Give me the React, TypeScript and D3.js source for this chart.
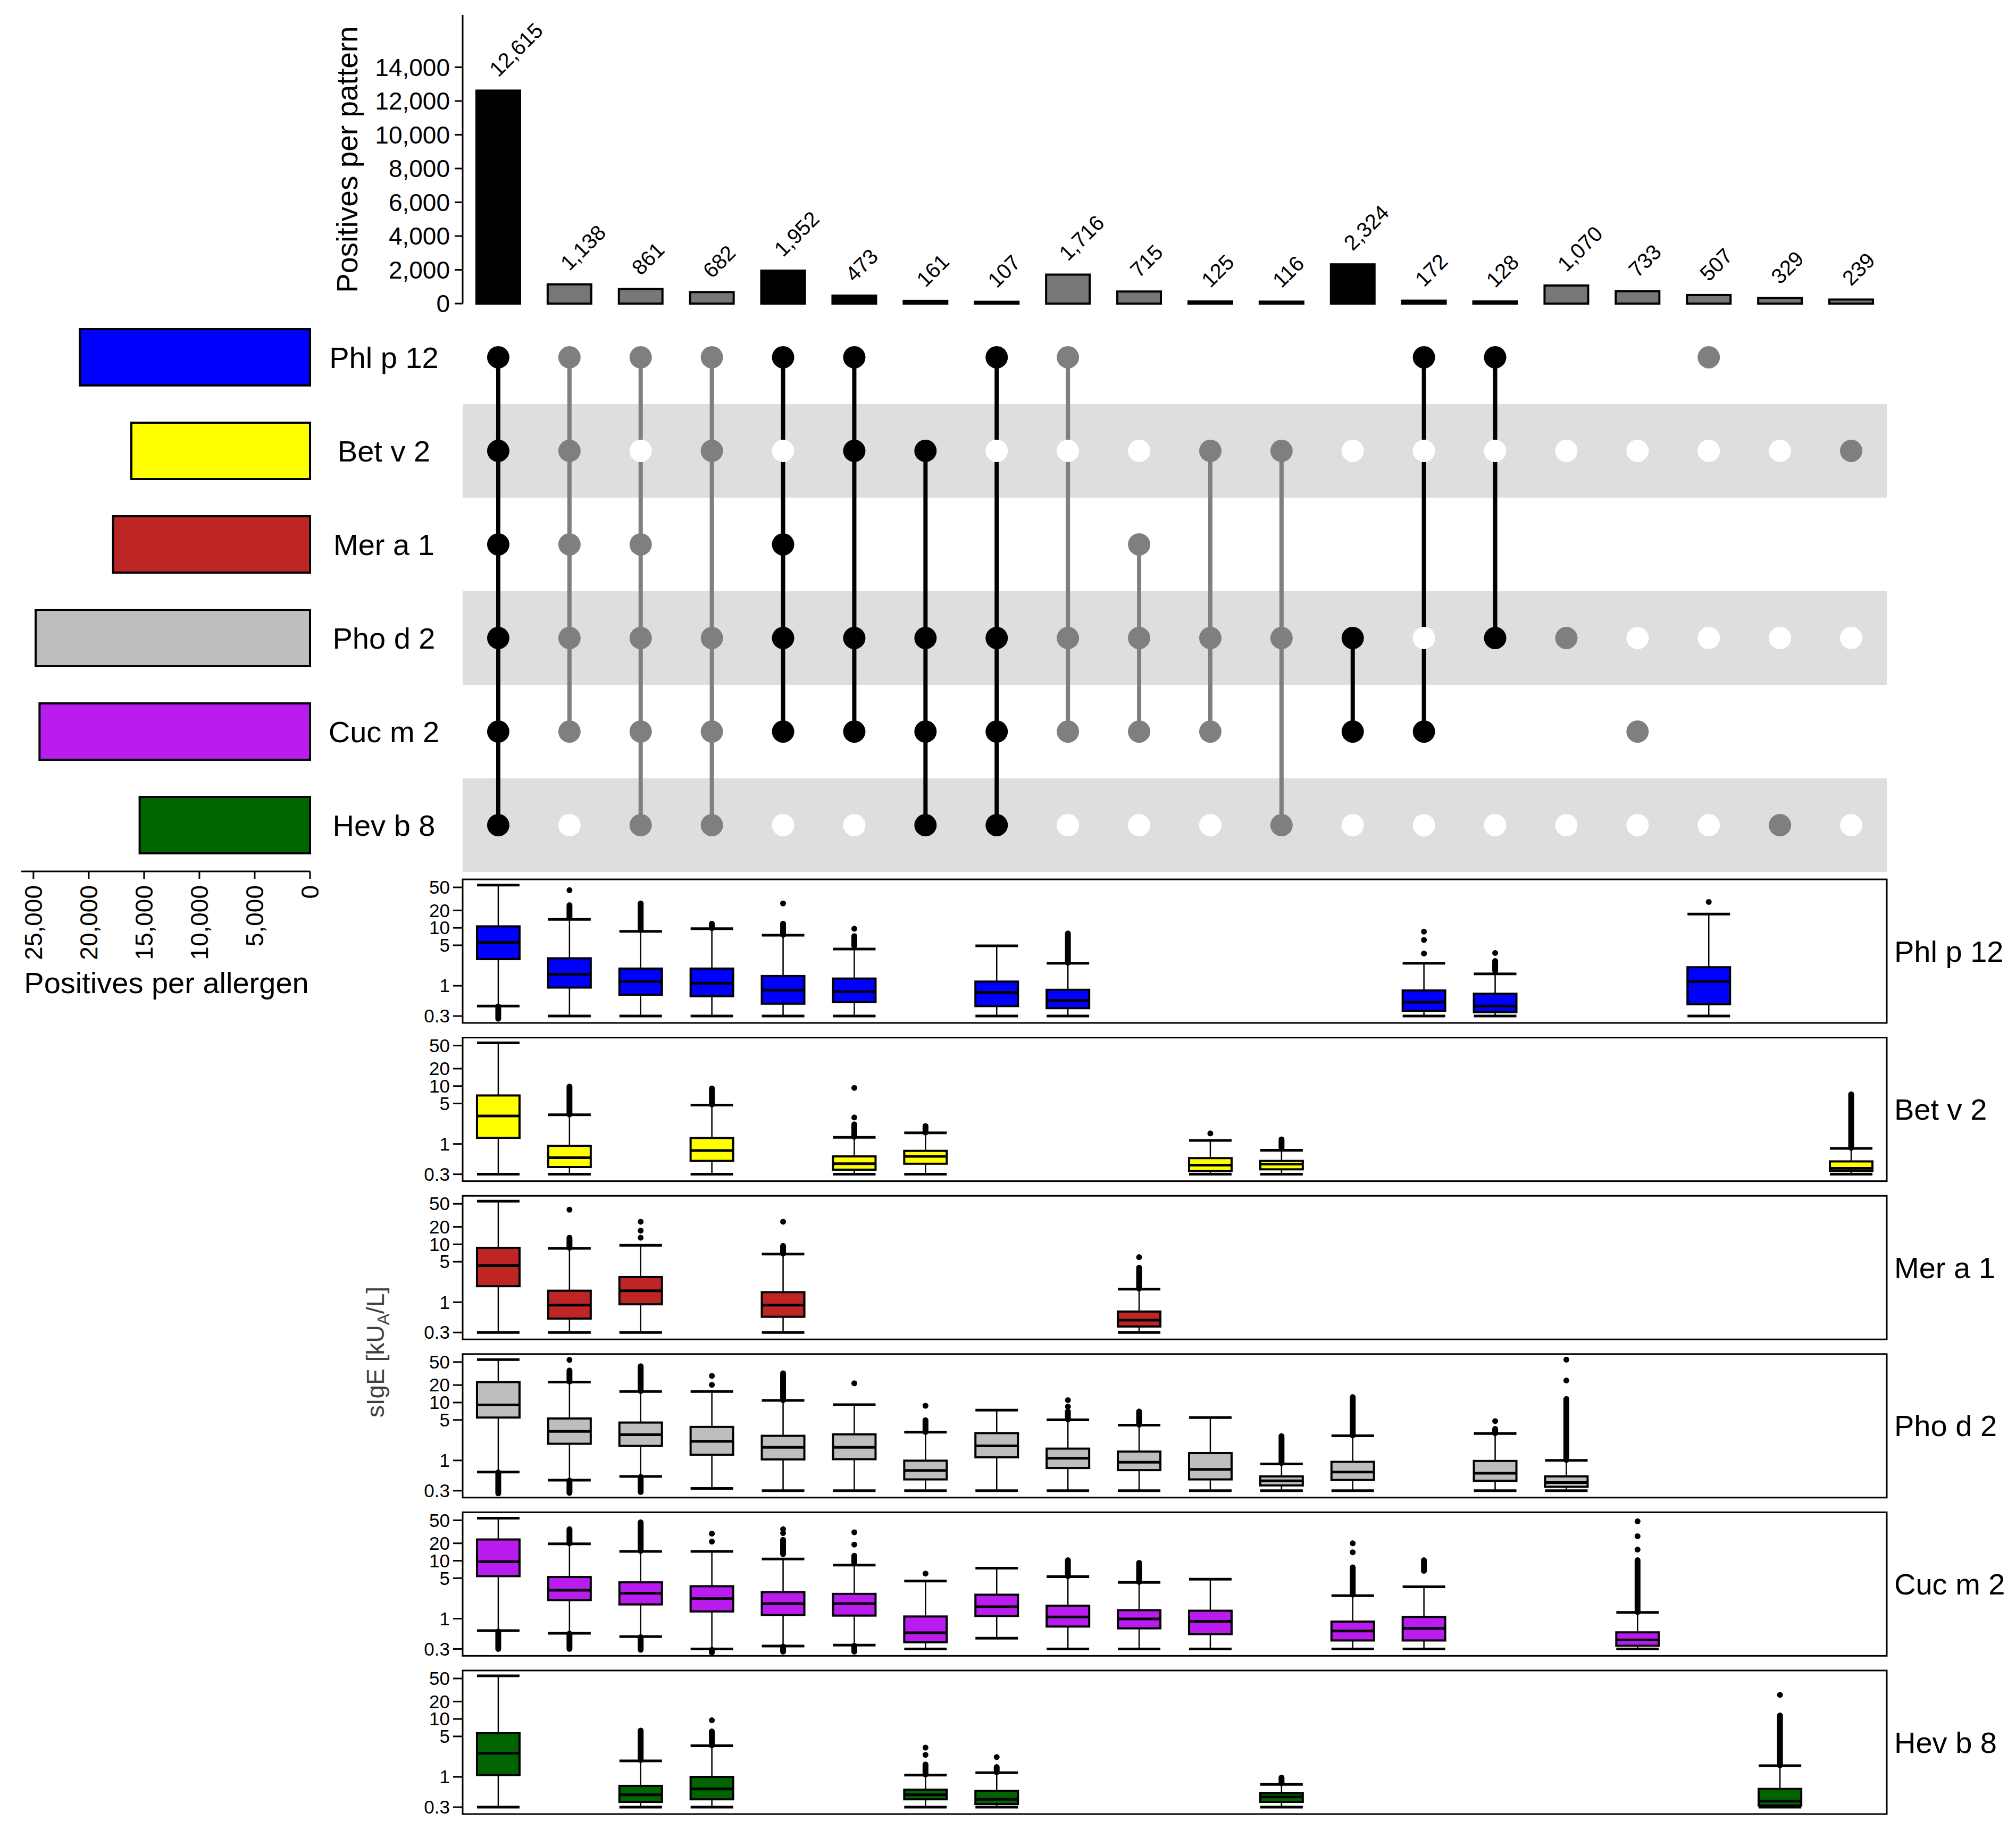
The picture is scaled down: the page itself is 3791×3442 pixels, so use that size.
import React from "react";
import * as d3 from "d3";

const W = 3791;
const H = 3442;
const FONT = "'Liberation Sans', Arial, Helvetica, sans-serif";

// ---------- data ----------
const allergens = ["Phl p 12", "Bet v 2", "Mer a 1", "Pho d 2", "Cuc m 2", "Hev b 8"];
const allergenColors = ["#0000FF", "#FFFF00", "#BE2626", "#BEBEBE", "#BA1CF0", "#006400"];
const allergenTotals = [20800, 16150, 17800, 24800, 24450, 15400];
const totalTicks = [0, 5000, 10000, 15000, 20000, 25000];

const patternCounts = [12615, 1138, 861, 682, 1952, 473, 161, 107, 1716, 715, 125, 116, 2324, 172, 128, 1070, 733, 507, 329, 239];
const patternMembers = [
  [0, 1, 2, 3, 4, 5], [0, 1, 2, 3, 4], [0, 2, 3, 4, 5], [0, 1, 3, 4, 5], [0, 2, 3, 4],
  [0, 1, 3, 4], [1, 3, 4, 5], [0, 3, 4, 5], [0, 3, 4], [2, 3, 4],
  [1, 3, 4], [1, 3, 5], [3, 4], [0, 4], [0, 3],
  [3], [4], [0], [5], [1],
];
const patternHighlight = [1, 0, 0, 0, 1, 1, 1, 1, 0, 0, 0, 0, 1, 1, 1, 0, 0, 0, 0, 0];
const patternTicks = [0, 2000, 4000, 6000, 8000, 10000, 12000, 14000];
const sigeTicks = [0.3, 1, 5, 10, 20, 50];
const shadedRows = [1, 3, 5];

type Box = { col: number; s: number[]; out?: number[]; runs?: number[][] };

const phlBoxes: Box[] = [
  { col: 1, s: [0.445, 2.88, 5.6, 10.6, 54.7], runs: [[0.27, 0.44]] },
  { col: 2, s: [0.3, 0.93, 1.58, 2.98, 14.0], out: [44.7], runs: [[15, 24.6]] },
  { col: 3, s: [0.3, 0.7, 1.18, 1.98, 8.7], runs: [[9.2, 26.4]] },
  { col: 4, s: [0.3, 0.66, 1.11, 1.98, 9.65], runs: [[9.9, 11.8]] },
  { col: 5, s: [0.3, 0.49, 0.84, 1.47, 7.45], out: [26.4], runs: [[7.6, 11.8]] },
  { col: 6, s: [0.3, 0.52, 0.79, 1.33, 4.3], out: [9.65], runs: [[4.88, 7.2]] },
  { col: 8, s: [0.3, 0.445, 0.77, 1.18, 4.88] },
  { col: 9, s: [0.3, 0.41, 0.56, 0.85, 2.45], runs: [[2.5, 8.0]] },
  { col: 14, s: [0.3, 0.37, 0.52, 0.83, 2.45], out: [8.6, 6.2, 3.6] },
  { col: 15, s: [0.3, 0.35, 0.445, 0.73, 1.6], out: [3.68], runs: [[1.82, 2.68]] },
  { col: 18, s: [0.3, 0.48, 1.18, 2.09, 17.3], out: [28] },
];

const betBoxes: Box[] = [
  { col: 1, s: [0.3, 1.28, 3.04, 6.88, 55.6] },
  { col: 2, s: [0.3, 0.4, 0.58, 0.93, 3.19], runs: [[3.24, 9.8]] },
  { col: 4, s: [0.3, 0.51, 0.77, 1.27, 4.7], runs: [[4.8, 9.1]] },
  { col: 6, s: [0.3, 0.36, 0.456, 0.61, 1.3], out: [9.3, 2.87], runs: [[1.33, 2.18]] },
  { col: 7, s: [0.3, 0.456, 0.61, 0.76, 1.56], runs: [[1.58, 2.04]] },
  { col: 11, s: [0.3, 0.34, 0.43, 0.57, 1.15], out: [1.52] },
  { col: 12, s: [0.3, 0.365, 0.45, 0.51, 0.78], runs: [[0.84, 1.2]] },
  { col: 20, s: [0.3, 0.34, 0.38, 0.5, 0.84], runs: [[0.86, 7.2]] },
];

const merBoxes: Box[] = [
  { col: 1, s: [0.3, 1.89, 4.27, 8.7, 55.5] },
  { col: 2, s: [0.3, 0.52, 0.89, 1.58, 8.5], out: [39.6], runs: [[8.7, 13]] },
  { col: 3, s: [0.3, 0.92, 1.58, 2.72, 9.6], out: [24.5, 17.2, 13] },
  { col: 5, s: [0.3, 0.56, 0.89, 1.49, 6.77], out: [24.5], runs: [[6.9, 9.4]] },
  { col: 10, s: [0.3, 0.38, 0.49, 0.69, 1.68], out: [6.0], runs: [[1.72, 3.95]] },
];

const phoBoxes: Box[] = [
  { col: 1, s: [0.63, 5.5, 9.1, 22.5, 55.2], runs: [[0.27, 0.62]] },
  { col: 2, s: [0.457, 1.94, 3.18, 5.3, 22.5], out: [54.5], runs: [[23, 35.7], [0.275, 0.45]] },
  { col: 3, s: [0.53, 1.78, 2.78, 4.51, 15.5], runs: [[15.8, 42.4], [0.285, 0.52]] },
  { col: 4, s: [0.328, 1.25, 2.13, 3.79, 15.5], out: [28.8, 20.2] },
  { col: 5, s: [0.3, 1.04, 1.68, 2.66, 10.9], runs: [[11, 32]] },
  { col: 6, s: [0.3, 1.05, 1.68, 2.82, 9.2], out: [21.5] },
  { col: 7, s: [0.3, 0.47, 0.67, 0.99, 3.07], out: [8.8], runs: [[3.1, 4.95]] },
  { col: 8, s: [0.3, 1.13, 1.78, 2.96, 7.4] },
  { col: 9, s: [0.3, 0.74, 1.09, 1.6, 5.02], out: [11, 8.5], runs: [[5.1, 7.0]] },
  { col: 10, s: [0.3, 0.68, 0.93, 1.42, 4.06], runs: [[4.15, 7.0]] },
  { col: 11, s: [0.3, 0.47, 0.7, 1.34, 5.5] },
  { col: 12, s: [0.3, 0.37, 0.445, 0.53, 0.87], runs: [[0.9, 2.63]] },
  { col: 13, s: [0.3, 0.46, 0.63, 0.945, 2.66], runs: [[2.7, 12.4]] },
  { col: 15, s: [0.3, 0.445, 0.6, 0.98, 2.92], out: [4.77], runs: [[2.95, 3.5]] },
  { col: 16, s: [0.3, 0.35, 0.415, 0.53, 1.0], out: [55, 24], runs: [[1.02, 11.5]] },
];

const cucBoxes: Box[] = [
  { col: 1, s: [0.62, 5.42, 9.67, 23.3, 54.3], runs: [[0.3, 0.6]] },
  { col: 2, s: [0.56, 2.09, 3.09, 5.24, 19.6], runs: [[20, 35], [0.3, 0.55]] },
  { col: 3, s: [0.49, 1.76, 2.74, 4.24, 14.5], runs: [[14.8, 46], [0.29, 0.48]] },
  { col: 4, s: [0.3, 1.33, 2.22, 3.63, 14.5], out: [29.4, 21.4], runs: [[0.26, 0.29]] },
  { col: 5, s: [0.336, 1.15, 1.82, 2.87, 10.7], out: [35, 30], runs: [[13, 23], [0.27, 0.33]] },
  { col: 6, s: [0.35, 1.13, 1.82, 2.68, 8.4], out: [31, 19], runs: [[9.2, 12.2], [0.27, 0.34]] },
  { col: 7, s: [0.3, 0.39, 0.57, 1.09, 4.45], out: [6.0] },
  { col: 8, s: [0.46, 1.11, 1.61, 2.59, 7.45] },
  { col: 9, s: [0.3, 0.73, 1.07, 1.67, 5.3], runs: [[5.42, 10.2]] },
  { col: 10, s: [0.3, 0.68, 0.99, 1.4, 4.24], runs: [[4.3, 9.2]] },
  { col: 11, s: [0.3, 0.54, 0.9, 1.37, 4.8] },
  { col: 13, s: [0.3, 0.42, 0.61, 0.89, 2.5], out: [20, 14], runs: [[2.6, 7.7]] },
  { col: 14, s: [0.3, 0.42, 0.68, 1.07, 3.55], runs: [[6.7, 10.2]] },
  { col: 17, s: [0.3, 0.34, 0.43, 0.58, 1.28], out: [48, 26.5, 15.6], runs: [[1.3, 10.2]] },
];

const hevBoxes: Box[] = [
  { col: 1, s: [0.3, 1.07, 2.56, 5.67, 55.7] },
  { col: 3, s: [0.3, 0.37, 0.49, 0.7, 1.89], runs: [[1.95, 6.3]] },
  { col: 4, s: [0.3, 0.41, 0.62, 1.0, 3.45], out: [9.5], runs: [[3.5, 6.1]] },
  { col: 7, s: [0.3, 0.41, 0.49, 0.6, 1.07], out: [3.2, 2.4], runs: [[1.1, 1.64]] },
  { col: 8, s: [0.3, 0.34, 0.41, 0.57, 1.18], out: [2.2], runs: [[1.2, 1.48]] },
  { col: 12, s: [0.3, 0.37, 0.45, 0.52, 0.74], runs: [[0.78, 0.97]] },
  { col: 19, s: [0.3, 0.32, 0.38, 0.62, 1.56], out: [26], runs: [[1.58, 11.5]] },
];

const panelBoxes = [phlBoxes, betBoxes, merBoxes, phoBoxes, cucBoxes, hevBoxes];

// ---------- layout ----------
const MX0 = 870;
const MX1 = 3548;
const colScale = d3.scaleBand<number>().domain(d3.range(patternCounts.length)).range([MX0, MX1]).padding(0);
const cx = (i: number) => (colScale(i) as number) + colScale.bandwidth() / 2;
const BAR_W = 82;
const BOX_W = 80;

const topY = d3.scaleLinear().domain([0, 17100]).range([571, 28]);
const rowScale = d3.scaleBand<string>().domain(allergens).range([584, 1640]).padding(0);
const rowY = (a: string) => (rowScale(a) as number) + rowScale.bandwidth() / 2;
const leftX = d3.scaleLinear().domain([0, 26100]).range([583, 40]);

const PANEL_TOP0 = 1654;
const PANEL_STEP = 297.6;
const PANEL_H = 270;

const fmt = d3.format(",");

function Panel({ idx }: { idx: number }) {
  const top = PANEL_TOP0 + idx * PANEL_STEP;
  const y = d3.scaleLog().domain([0.228, 68.7]).range([top + PANEL_H, top]);
  const color = allergenColors[idx];
  const boxes = panelBoxes[idx];
  return (
    <g>
      <rect x={MX0} y={top} width={MX1 - MX0} height={PANEL_H} fill="#fff" stroke="#000" strokeWidth={3} />
      {sigeTicks.map((t) => (
        <g key={t}>
          <line x1={852} x2={MX0} y1={y(t)} y2={y(t)} stroke="#000" strokeWidth={3} />
          <text x={846} y={y(t)} dy="0.35em" textAnchor="end" fontSize={35} fontFamily={FONT}>
            {String(t)}
          </text>
        </g>
      ))}
      {boxes.map((b) => {
        const x = cx(b.col - 1);
        const [lo, q1, med, q3, hi] = b.s;
        return (
          <g key={b.col}>
            <line x1={x} x2={x} y1={y(hi)} y2={y(lo)} stroke="#000" strokeWidth={2.5} />
            <line x1={x - BOX_W / 2} x2={x + BOX_W / 2} y1={y(hi)} y2={y(hi)} stroke="#000" strokeWidth={5} />
            <line x1={x - BOX_W / 2} x2={x + BOX_W / 2} y1={y(lo)} y2={y(lo)} stroke="#000" strokeWidth={5} />
            <rect x={x - BOX_W / 2} y={y(q3)} width={BOX_W} height={y(q1) - y(q3)} fill={color} stroke="#000" strokeWidth={4} />
            <line x1={x - BOX_W / 2} x2={x + BOX_W / 2} y1={y(med)} y2={y(med)} stroke="#000" strokeWidth={5} />
            {(b.runs || []).map((r, k) => (
              <line key={"r" + k} x1={x} x2={x} y1={y(r[0])} y2={y(r[1])} stroke="#000" strokeWidth={11} strokeLinecap="round" />
            ))}
            {(b.out || []).map((o, k) => (
              <circle key={"o" + k} cx={x} cy={y(o)} r={5.5} fill="#000" />
            ))}
          </g>
        );
      })}
      <text x={3562} y={top + PANEL_H / 2} dy="0.35em" fontSize={56} fontFamily={FONT}>
        {allergens[idx]}
      </text>
    </g>
  );
}

export default function App() {
  return (
    <svg width={W} height={H} style={{ position: "absolute", left: 0, top: 0, background: "#fff" }} xmlns="http://www.w3.org/2000/svg">
      <rect x={0} y={0} width={W} height={H} fill="#fff" />

      {/* ---------- top bar chart ---------- */}
      <line x1={MX0} x2={MX0} y1={topY.range()[1]} y2={topY(0)} stroke="#000" strokeWidth={3} />
      {patternTicks.map((t) => (
        <g key={t}>
          <line x1={855} x2={MX0} y1={topY(t)} y2={topY(t)} stroke="#000" strokeWidth={3} />
          <text x={846} y={topY(t)} dy="0.35em" textAnchor="end" fontSize={46} fontFamily={FONT}>
            {fmt(t)}
          </text>
        </g>
      ))}
      <text transform={`translate(672,300) rotate(-90)`} textAnchor="middle" fontSize={55} fontFamily={FONT}>
        Positives per pattern
      </text>
      {patternCounts.map((v, i) => {
        const x = cx(i);
        const yt = topY(v);
        return (
          <g key={i}>
            <rect x={x - BAR_W / 2} y={yt} width={BAR_W} height={topY(0) - yt} fill={patternHighlight[i] ? "#000" : "#777777"} stroke="#000" strokeWidth={4} />
            <text transform={`translate(${x},${yt - 24}) rotate(-45)`} fontSize={40} fontFamily={FONT}>
              {fmt(v)}
            </text>
          </g>
        );
      })}

      {/* ---------- matrix ---------- */}
      {shadedRows.map((r) => (
        <rect key={r} x={MX0} y={rowScale(allergens[r]) as number} width={MX1 - MX0} height={rowScale.bandwidth()} fill="#DEDEDE" />
      ))}
      {patternMembers.map((m, i) => {
        const col = patternHighlight[i] ? "#000" : "#7F7F7F";
        const x = cx(i);
        const ys = m.map((r) => rowY(allergens[r]));
        return (
          <g key={i}>
            {m.length > 1 && (
              <line x1={x} x2={x} y1={d3.min(ys) as number} y2={d3.max(ys) as number} stroke={col} strokeWidth={8} />
            )}
            {allergens.map((a, r) =>
              m.includes(r) ? (
                <circle key={a} cx={x} cy={rowY(a)} r={21} fill={col} />
              ) : shadedRows.includes(r) ? (
                <circle key={a} cx={x} cy={rowY(a)} r={21} fill="#fff" />
              ) : null
            )}
          </g>
        );
      })}
      {allergens.map((a) => (
        <text key={a} x={722} y={rowY(a)} dy="0.35em" textAnchor="middle" fontSize={56} fontFamily={FONT}>
          {a}
        </text>
      ))}

      {/* ---------- left bar chart ---------- */}
      {allergenTotals.map((v, i) => (
        <rect key={i} x={leftX(v)} y={rowY(allergens[i]) - 53} width={leftX(0) - leftX(v)} height={106} fill={allergenColors[i]} stroke="#000" strokeWidth={4} />
      ))}
      <line x1={leftX.range()[1]} x2={leftX(0)} y1={1639} y2={1639} stroke="#000" strokeWidth={3} />
      {totalTicks.map((t) => (
        <g key={t}>
          <line x1={leftX(t)} x2={leftX(t)} y1={1639} y2={1653} stroke="#000" strokeWidth={3} />
          <text transform={`translate(${leftX(t) + 16},1665) rotate(-90)`} textAnchor="end" fontSize={46} fontFamily={FONT}>
            {fmt(t)}
          </text>
        </g>
      ))}
      <text x={313} y={1868} textAnchor="middle" fontSize={56} fontFamily={FONT}>
        Positives per allergen
      </text>

      {/* ---------- box panels ---------- */}
      {allergens.map((a, i) => (
        <Panel key={a} idx={i} />
      ))}
      <text transform={`translate(722,2543) rotate(-90)`} textAnchor="middle" fontSize={46} fontFamily={FONT} fill="#404040">
        sIgE [kU
        <tspan fontSize={32} dy={10}>A</tspan>
        <tspan dy={-10}>/L]</tspan>
      </text>
    </svg>
  );
}
